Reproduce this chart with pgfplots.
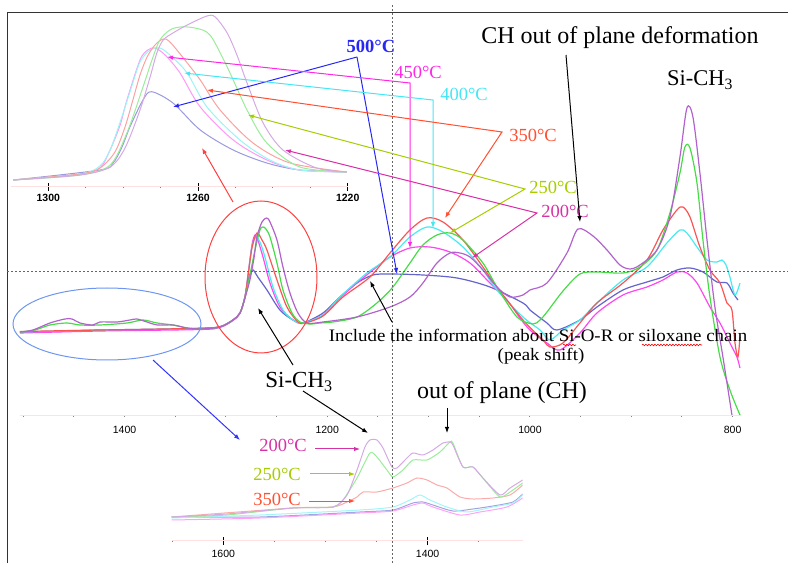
\documentclass[border=0pt]{standalone}
\usepackage{pgfplots}
\pgfplotsset{compat=1.18}
\usepackage{fontspec}
\setmainfont{Liberation Serif}
\newfontfamily\tickfont{Liberation Sans}
\usetikzlibrary{arrows.meta,decorations.pathmorphing}
\definecolor{c200}{RGB}{178,98,205}
\definecolor{c250}{RGB}{70,220,70}
\definecolor{c350}{RGB}{250,85,85}
\definecolor{c400}{RGB}{70,235,240}
\definecolor{c450}{RGB}{255,70,240}
\definecolor{c500}{RGB}{100,100,205}
\definecolor{l500}{RGB}{40,40,245}
\definecolor{l450}{RGB}{255,40,230}
\definecolor{l400}{RGB}{70,230,245}
\definecolor{l350}{RGB}{255,80,50}
\definecolor{l250}{RGB}{165,205,0}
\definecolor{l200}{RGB}{215,50,165}
\definecolor{axpink}{RGB}{255,225,225}
\definecolor{ellblue}{RGB}{110,150,240}
\newcommand\lab{\fontsize{18.5}{20}\selectfont}
\newcommand\bigtxt{\fontsize{24}{26}\selectfont}
\begin{document}
\begin{tikzpicture}
% ---------------- main spectrum ----------------
\begin{axis}[
  at={(0pt,0pt)}, anchor=south west, scale only axis,
  width=788pt, height=563pt,
  xmin=745.4, xmax=1522.9, x dir=reverse, ymin=-147, ymax=416,
  axis x line*=middle, axis y line=none,
  x axis line style={draw=none},
  xtick={800,1000,1200,1400}, xticklabels={800,1000,1200,1400},
  minor xtick={850,900,950,1050,1100,1150,1250,1300,1350,1450,1500},
  tick align=center, major tick length=2pt, minor tick length=2pt,
  tick style={gray, line width=1pt},
  xticklabel style={font=\tickfont\fontsize{10.5}{12}\selectfont, yshift=-6pt},
  every axis plot/.append style={line width=1.2pt, smooth, tension=0.5},
]
\draw[axpink, line width=1pt] (axis cs:1503,0) -- (axis cs:792,0);
\addplot[c500] coordinates {(1503.2,84) (1463.7,84.5) (1424.3,86) (1374.9,86.5) (1325.6,87.7) (1305.9,89.3) (1293.0,96) (1286.1,103) (1281.2,119) (1278.2,136) (1275.3,144) (1273.0,146) (1268.5,139) (1259.5,126) (1246.7,106) (1233.8,96) (1224.0,93) (1204.2,103) (1187.5,119) (1170.7,133) (1154.9,141) (1138.1,142) (1105.6,141) (1072.0,138) (1039.5,129) (1006.9,113) (1000,106) (983.2,93) (973.4,86) (950.7,96) (933.9,109) (908.2,126) (884.6,134) (868.8,139) (855.0,146) (842.1,148) (829.3,144) (815.5,134) (805.6,133) (799.7,123) (794.8,116)};
\addplot[c450] coordinates {(1503.2,83) (1424.3,85) (1325.6,86.5) (1305.9,88.5) (1293.0,95.5) (1286.1,102.5) (1281.2,119) (1278.2,141) (1274.3,171) (1271.3,181) (1268.5,176) (1263.4,159) (1256.5,133) (1246.7,109) (1233.8,96) (1224.0,93) (1204.2,101) (1187.5,118) (1170.7,133) (1154.9,146) (1138.1,159) (1118.4,168) (1098.7,169) (1078.9,164) (1059.2,153) (1039.5,133) (1022.7,116) (1009.9,98) (1000,86) (983.2,73) (970.4,66) (950.7,83) (933.9,103) (908.2,121) (884.6,129) (868.8,136) (855.0,144) (845.1,143) (835.2,133) (822.4,109) (812.5,93) (802.7,73) (795.8,59) (792.8,48)};
\addplot[c400] coordinates {(1503.2,84) (1424.3,86) (1325.6,87.5) (1305.9,89) (1293.0,96) (1286.1,103) (1281.2,119) (1278.2,140) (1274.3,169) (1270.4,179) (1266.4,174) (1261.5,159) (1253.6,129) (1243.7,106) (1233.8,96) (1224.0,93) (1204.2,101) (1187.5,119) (1160.8,143) (1138.1,159) (1118.4,179) (1101.6,189) (1085.8,184) (1066.1,169) (1046.4,146) (1032.6,126) (1006.9,99) (990.1,86) (980.3,76) (967.4,86) (950.7,96) (933.9,113) (908.2,136) (884.6,149) (864.9,173) (852.0,186) (845.1,183) (835.2,169) (825.3,156) (815.5,154) (810.6,156) (806.6,151) (802.7,139) (797.7,121) (792.8,133)};
\addplot[c350] coordinates {(1503.2,84.5) (1424.3,86) (1325.6,87.7) (1305.9,89.3) (1293.0,96) (1286.1,103) (1281.2,119) (1278.2,140) (1274.3,168) (1269.4,183) (1264.4,176) (1259.5,166) (1249.6,136) (1239.8,109) (1228.9,94) (1222.0,93) (1204.2,100) (1184.5,119) (1157.9,139) (1138.1,163) (1118.4,186) (1101.6,198) (1085.8,194) (1066.1,176) (1046.4,149) (1032.6,129) (1006.9,96) (987.2,76) (980.3,69) (967.4,73) (950.7,93) (933.9,113) (908.2,133) (884.6,156) (868.8,186) (855.0,206) (849.0,209) (842.1,199) (832.3,169) (822.4,146) (812.5,133) (805.6,113) (800.7,106) (797.7,73) (794.8,59) (792.8,79)};
\addplot[c250] coordinates {(1503.2,84) (1488.4,86) (1473.6,91) (1456.8,93) (1444.0,91) (1424.3,91) (1397.6,93) (1381.8,96) (1368.0,93) (1352.2,91) (1338.4,88) (1325.6,87) (1305.9,89) (1293.0,96) (1286.1,103) (1281.2,118) (1276.3,141) (1271.3,166) (1266.4,186) (1263.4,189) (1260.5,187) (1256.5,179) (1249.6,153) (1243.7,126) (1234.8,103) (1226.9,94) (1217.1,92) (1207.2,93) (1194.4,94) (1170.7,99) (1151.0,113) (1135.2,129) (1118.4,153) (1105.6,171) (1091.8,181) (1078.9,183) (1066.1,176) (1046.4,153) (1032.6,129) (1012.8,99) (997.0,92) (990.1,96) (983.2,104) (967.4,125) (950.7,142) (933.9,144) (908.2,143) (891.5,149) (874.7,166) (861.9,203) (852.0,243) (847.1,269) (842.1,268) (835.2,233) (829.3,176) (822.4,119) (812.5,59) (802.7,26) (792.8,1)};
\addplot[c200] coordinates {(1503.2,84) (1490.4,86) (1473.6,93) (1458.8,97) (1451.9,97) (1444.0,93) (1431.2,91) (1424.3,94) (1407.5,94) (1394.7,96) (1387.8,97) (1377.9,94) (1368.0,91) (1352.2,91) (1338.4,88) (1325.6,87) (1305.9,89) (1293.0,96) (1286.1,103) (1281.2,118) (1276.3,136) (1272.3,158) (1269.4,179) (1264.4,194) (1259.8,198) (1256.5,194) (1249.6,176) (1243.7,149) (1236.8,123) (1228.9,103) (1220.0,93) (1204.2,94) (1170.7,99) (1138.1,109) (1118.4,119) (1105.6,133) (1091.8,153) (1078.9,163) (1069.1,163) (1059.2,159) (1046.4,146) (1032.6,129) (1019.7,119) (1006.9,121) (1000,126) (983.2,133) (963.5,163) (952.6,187) (937.8,180) (924.0,166) (911.2,151) (901.3,147) (891.5,151) (874.7,166) (861.9,199) (852.0,259) (845.1,308) (839.2,299) (832.3,243) (825.3,176) (817.5,109) (809.6,59) (800.7,1)};
\end{axis}
% ---------------- top-left inset ----------------
\begin{axis}[
  at={(10.9pt,376pt)}, anchor=south west, scale only axis,
  width=336.8pt, height=180pt,
  xmin=1220, xmax=1310, x dir=reverse, ymin=0, ymax=180,
  axis x line*=bottom, axis y line=none,
  x axis line style={draw=axpink, line width=1pt, -},
  xtick={1220,1260,1300}, xticklabels={1220,1260,1300},
  minor xtick={1230,1240,1250,1270,1280,1290},
  tick align=center, major tick length=8pt, minor tick length=1.5pt,
  major tick style={black, line width=0.8pt}, minor tick style={gray, line width=1pt},
  xticklabel style={font=\tickfont\bfseries\fontsize{10.5}{12}\selectfont},
  every axis plot/.append style={line width=1pt, smooth, tension=0.5},
]
\addplot[c500!65!white] coordinates {(1309.4,7) (1286.2,17) (1282.7,24) (1280.3,40) (1278.2,60) (1274.7,87) (1272.4,95.3) (1266.7,84) (1259.4,57) (1250.6,37) (1241.6,24) (1232.8,17) (1220.2,15)};
\addplot[c450!55!white] coordinates {(1309.4,7) (1291.5,13) (1286.2,19) (1283.5,37) (1280.8,62) (1279.0,87) (1275.5,127) (1273.4,137) (1271.5,139) (1268.8,132) (1264.8,114) (1259.4,80) (1250.6,47) (1241.6,27) (1232.8,17) (1220.2,15)};
\addplot[c400!55!white] coordinates {(1309.4,7) (1291.5,13) (1286.2,21) (1283.5,37) (1280.8,65) (1278.2,95) (1275.5,125) (1272.8,137) (1270.2,139) (1267.5,132) (1262.9,114) (1257.6,80) (1248.8,47) (1240.8,27) (1232.8,17) (1220.2,15)};
\addplot[c350!55!white] coordinates {(1309.4,7) (1291.5,13) (1286.2,19) (1282.2,35) (1279.5,60) (1277.4,87) (1275.5,112) (1273.6,130) (1271.5,142) (1269.3,148) (1267.5,145) (1263.5,127) (1259.4,107) (1254.1,77) (1245.3,44) (1235.4,24) (1220.2,15)};
\addplot[c250!55!white] coordinates {(1309.4,7) (1291.5,12) (1283.5,22) (1279.0,54) (1274.7,100) (1272.3,127) (1270.2,147) (1267.5,157) (1264.8,160) (1260.8,159) (1256.8,152) (1252.2,120) (1246.9,77) (1241.6,44) (1232.8,20) (1220.2,15)};
\addplot[c200!55!white] coordinates {(1309.4,7) (1291.5,12) (1283.5,20) (1279.5,39) (1275.5,77) (1272.8,110) (1271.0,134) (1269.3,147) (1266.7,154) (1262.9,162) (1257.6,171) (1255.4,170) (1252.2,154) (1249.6,132) (1246.9,104) (1242.6,64) (1237.3,37) (1228.3,19) (1220.2,15)};
\end{axis}
% ---------------- bottom inset ----------------
\begin{axis}[
  at={(171.7pt,22pt)}, anchor=south west, scale only axis,
  width=351pt, height=115pt,
  xmin=1306.9, xmax=1650.5, x dir=reverse, ymin=0, ymax=115,
  axis x line*=bottom, axis y line=none,
  x axis line style={draw=axpink, line width=1pt, -},
  xtick={1400,1600}, xticklabels={1400,1600},
  minor xtick={1350,1450,1500,1550,1650},
  tick align=center, major tick length=8pt, minor tick length=1.5pt,
  major tick style={black, line width=0.8pt}, minor tick style={gray, line width=1pt},
  xticklabel style={font=\tickfont\fontsize{10.5}{12}\selectfont, yshift=-2pt},
  every axis plot/.append style={line width=1pt, smooth, tension=0.4},
]
\addplot[c500!60!white] coordinates {(1650.5,24) (1564.1,24) (1466.2,29) (1433.9,31) (1414.3,38) (1404.6,39) (1394.8,36) (1375.2,30) (1355.6,32) (1336.0,35) (1316.4,39) (1306.9,47)};
\addplot[c450!50!white] coordinates {(1650.5,21) (1564.1,23) (1466.2,28) (1433.9,30) (1414.3,36) (1404.6,38) (1394.8,34) (1368.3,26) (1348.7,29) (1322.3,34) (1306.9,43)};
\addplot[c400!50!white] coordinates {(1650.5,23) (1564.1,26) (1466.2,31) (1433.9,34) (1417.3,41) (1407.5,46) (1397.7,41) (1381.1,34) (1361.4,29) (1336.0,34) (1316.4,38) (1306.9,46)};
\addplot[c350!50!white] coordinates {(1650.5,24) (1531.8,33) (1492.6,34) (1478.9,39) (1469.1,44) (1463.2,49) (1449.6,49) (1433.9,53) (1420.2,58) (1410.4,63) (1400.6,61) (1390.8,56) (1381.1,53) (1368.3,44) (1355.6,42) (1336.0,43) (1319.3,46) (1306.9,56)};
\addplot[c250!55!white] coordinates {(1650.5,24) (1596.7,26) (1531.8,33) (1492.6,34) (1482.8,41) (1469.1,63) (1456.4,88) (1449.6,84) (1439.8,71) (1433.9,64) (1424.1,71) (1414.3,81) (1400.6,81) (1387.9,89) (1378.1,99) (1375.2,98) (1365.4,74) (1355.6,74) (1341.9,58) (1329.1,44) (1319.3,49) (1306.9,58)};
\addplot[c200!55!white] coordinates {(1650.5,24) (1596.7,27) (1531.8,33) (1492.6,34) (1478.9,46) (1469.1,71) (1461.3,94) (1456.4,101) (1449.6,101) (1443.7,93) (1434.9,74) (1430.0,73) (1420.2,83) (1414.3,88) (1404.6,86) (1394.8,91) (1385.0,98) (1378.1,99) (1375.2,96) (1365.4,74) (1355.6,74) (1345.8,63) (1329.1,46) (1319.3,53) (1306.9,61)};
\end{axis}
% ---------------- annotations (pixel coordinates) ----------------
\begin{scope}[x=1pt, y=-1pt, shift={(0pt,563pt)}, >={Latex[length=6pt,width=4.5pt]}]
\draw[black!80, line width=1pt] (7,563) -- (7,13) -- (788,13);
\draw[black!60, line width=0.8pt, dash pattern=on 2pt off 2pt] (392,5) -- (392,563);
\draw[black!60, line width=0.8pt, dash pattern=on 2pt off 2pt] (7,271) -- (788,271);
% ellipses
\draw[red!75, line width=1pt] (261,277) ellipse [x radius=56pt, y radius=76pt];
\draw[red!75, line width=1pt, ->] (233,202) -- (202,148);
\draw[ellblue, line width=1pt] (107,324) ellipse [x radius=94pt, y radius=36pt];
\draw[blue!80, line width=1pt, ->] (153,360) -- (240,440);
% temperature labels with arrows to top inset and main peaks
\node[l500, font=\lab\bfseries] at (371,46) {500°C};
\draw[l500, line width=1pt, ->] (357,57) -- (173,107);
\draw[l500, line width=1pt, ->] (357,57) -- (397,274);
\node[l450, font=\lab] at (418,72) {450°C};
\draw[l450, line width=1pt, <->] (167,57) -- (410,83) -- (410,248);
\node[l400, font=\lab] at (464,94) {400°C};
\draw[l400, line width=1pt, <->] (184,73) -- (433,100) -- (433,228);
\node[l350, font=\lab] at (533,135) {350°C};
\draw[l350, line width=1pt, <->] (207,90) -- (502,132) -- (445,218);
\node[l250, font=\lab] at (553,187) {250°C};
\draw[l250, line width=1pt, <->] (248,115) -- (525,189) -- (450,233);
\node[l200, font=\lab] at (565,211) {200°C};
\draw[l200, line width=1pt, <->] (285,150) -- (537,213) -- (472,258);
% texts
\node[font=\bigtxt] at (620,38) {CH out of plane deformation};
\draw[line width=1pt, ->] (566,55) -- (580,222);
\node[font=\fontsize{22.5}{24}\selectfont] at (700,80) {Si-CH\textsubscript{3}};
\node[font=\fontsize{23}{25}\selectfont] at (299,382) {Si-CH\textsubscript{3}};
\draw[line width=1pt, ->] (293,365) -- (258,308);
\draw[line width=1pt, ->] (303,391) -- (368,433);
\node[font=\bigtxt] at (502,393) {out of plane (CH)};
\draw[line width=1pt, ->] (447,408) -- (447,433);
\node[font=\fontsize{17.5}{19}\selectfont] at (538,335) {\scalebox{1.08}[1]{Include the information about Si-O-R or siloxane chain}};
\node[font=\fontsize{17.5}{19}\selectfont] at (541,356) {\scalebox{1.08}[1]{(peak shift)}};
\draw[red, line width=0.6pt, decorate, decoration={snake, amplitude=0.8pt, segment length=3pt}] (563,345) -- (576,345);
\draw[red, line width=0.6pt, decorate, decoration={snake, amplitude=0.8pt, segment length=3pt}] (642,345) -- (702,345);
\draw[line width=1pt, ->] (392,322) -- (370,281);
% bottom inset labels
\node[l200, font=\lab] at (283,445) {200°C};
\draw[l200, line width=1pt, ->] (315,449) -- (360,449);
\node[l250, font=\lab] at (277,474) {250°C};
\draw[l250, line width=1pt, ->] (310,474) -- (355,474);
\node[l350, font=\lab] at (277,499) {350°C};
\draw[l350, line width=1pt, ->] (309,501) -- (355,501);
\end{scope}
\pgfresetboundingbox
\useasboundingbox (0pt,0pt) rectangle (788pt,563pt);
\end{tikzpicture}
\end{document}
